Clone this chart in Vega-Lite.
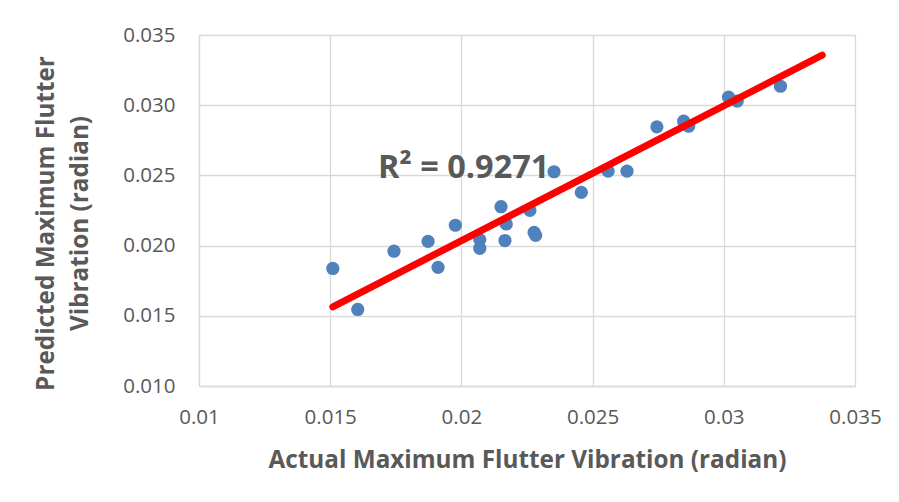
{
  "$schema": "https://vega.github.io/schema/vega-lite/v6.json",
  "width": 656,
  "height": 351,
  "autosize": {"type": "none"},
  "padding": {"left": 199, "top": 35, "right": 44, "bottom": 116},
  "background": "white",
  "config": {
    "view": {"stroke": null},
    "font": "Open Sans",
    "axis": {
      "gridColor": "#d9d9d9",
      "gridWidth": 1.3,
      "domainColor": "#d9d9d9",
      "domainWidth": 1.3,
      "ticks": false,
      "tickSize": 0,
      "labelFlush": false,
      "labelOverlap": false,
      "labelFont": "Open Sans",
      "labelFontSize": 20.5,
      "labelColor": "#595959",
      "titleFont": "Open Sans",
      "titleFontSize": 24.3,
      "titleFontWeight": "bold",
      "titleColor": "#595959"
    }
  },
  "datasets": {
    "points": [
      {"actual": 0.01510, "predicted": 0.01837},
      {"actual": 0.01605, "predicted": 0.01545},
      {"actual": 0.01743, "predicted": 0.01960},
      {"actual": 0.01873, "predicted": 0.02030},
      {"actual": 0.01911, "predicted": 0.01845},
      {"actual": 0.01977, "predicted": 0.02145},
      {"actual": 0.02070, "predicted": 0.02043},
      {"actual": 0.02070, "predicted": 0.01981},
      {"actual": 0.02151, "predicted": 0.02277},
      {"actual": 0.02171, "predicted": 0.02154},
      {"actual": 0.02166, "predicted": 0.02036},
      {"actual": 0.02261, "predicted": 0.02251},
      {"actual": 0.02277, "predicted": 0.02094},
      {"actual": 0.02283, "predicted": 0.02073},
      {"actual": 0.02353, "predicted": 0.02526},
      {"actual": 0.02457, "predicted": 0.02379},
      {"actual": 0.02559, "predicted": 0.02530},
      {"actual": 0.02631, "predicted": 0.02530},
      {"actual": 0.02745, "predicted": 0.02846},
      {"actual": 0.02847, "predicted": 0.02886},
      {"actual": 0.02866, "predicted": 0.02850},
      {"actual": 0.03018, "predicted": 0.03057},
      {"actual": 0.03051, "predicted": 0.03029},
      {"actual": 0.03216, "predicted": 0.03135}
    ],
    "trend": [
      {"actual": 0.01510, "predicted": 0.01564},
      {"actual": 0.03375, "predicted": 0.03356}
    ],
    "label": [
      {"actual": 0.01682, "predicted": 0.02478, "text": "R² = 0.9271"}
    ]
  },
  "encoding": {
    "x": {
      "field": "actual",
      "type": "quantitative",
      "scale": {"domain": [0.01, 0.035], "nice": false, "zero": false},
      "axis": {
        "values": [0.01, 0.015, 0.02, 0.025, 0.03, 0.035],
        "format": "~g",
        "labelPadding": 21,
        "labelBaseline": "top",
        "title": "Actual Maximum Flutter Vibration (radian)",
        "titleBaseline": "alphabetic",
        "titleY": 81,
        "titleX": 328,
        "titleAnchor": "middle",
        "titleAlign": "center"
      }
    },
    "y": {
      "field": "predicted",
      "type": "quantitative",
      "scale": {"domain": [0.01, 0.035], "nice": false, "zero": false},
      "axis": {
        "values": [0.01, 0.015, 0.02, 0.025, 0.03, 0.035],
        "format": ".3f",
        "labelPadding": 24,
        "title": ["Predicted Maximum Flutter", "Vibration (radian)"],
        "titleLineHeight": 34,
        "titleAngle": -90,
        "titleBaseline": "alphabetic",
        "titleAlign": "center",
        "titleX": -146,
        "titleY": 188
      }
    }
  },
  "layer": [
    {
      "data": {"name": "label"},
      "mark": {"type": "text", "align": "left", "baseline": "alphabetic", "fontSize": 32.5, "fontWeight": "bold", "color": "#595959", "font": "Open Sans"},
      "encoding": {"text": {"field": "text"}}
    },
    {
      "data": {"name": "points"},
      "mark": {"type": "point", "filled": true, "size": 175, "opacity": 1, "color": "#4f81bd"}
    },
    {
      "data": {"name": "trend"},
      "mark": {"type": "line", "color": "#ff0000", "strokeWidth": 7, "strokeCap": "round"}
    }
  ]
}
